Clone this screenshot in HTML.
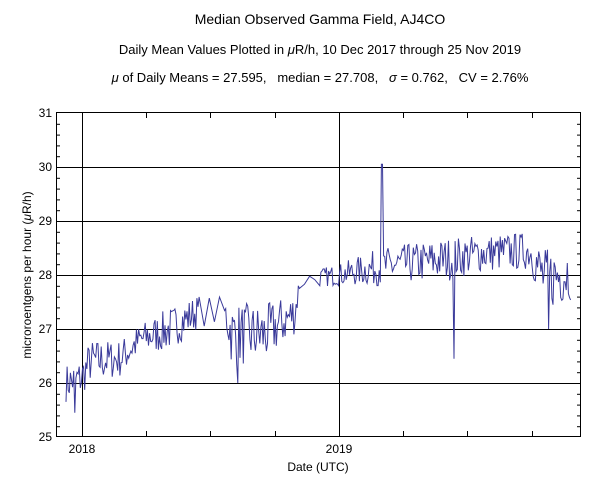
<!DOCTYPE html>
<html><head><meta charset="utf-8"><style>
body{margin:0;background:#fff}
svg text{font-family:"Liberation Sans",sans-serif;fill:#000}
</style></head><body>
<svg id="s" width="600" height="496" viewBox="0 0 600 496" xmlns="http://www.w3.org/2000/svg">
<rect width="600" height="496" fill="#fff"/>
<text x="320" y="24" font-size="14" text-anchor="middle">Median Observed Gamma Field, AJ4CO</text>
<text x="320" y="54" font-size="13" text-anchor="middle">Daily Mean Values Plotted in <tspan font-style="italic">μ</tspan>R/h, 10 Dec 2017 through 25 Nov 2019</text>
<text x="320" y="82" font-size="13" text-anchor="middle" style="white-space:pre"><tspan font-style="italic">μ</tspan> of Daily Means = 27.595,&#160;&#160; median = 27.708,&#160;&#160; <tspan font-style="italic">σ</tspan> = 0.762,&#160;&#160; CV = 2.76%</text>
<g id="grid" stroke="#000" stroke-width="1" fill="none"></g>
<polyline id="d" fill="none" stroke="#3a3a9a" stroke-width="1" points=""/>
<rect x="56.5" y="112.5" width="524" height="324" fill="none" stroke="#000"/>
<g font-size="12" text-anchor="end">
<text x="52" y="117">31</text><text x="52" y="171">30</text><text x="52" y="225">29</text>
<text x="52" y="279">28</text><text x="52" y="333">27</text><text x="52" y="387">26</text><text x="52" y="441">25</text>
</g>
<text x="82" y="453" font-size="12" text-anchor="middle">2018</text>
<text x="339" y="453" font-size="12" text-anchor="middle">2019</text>
<text x="318" y="471" font-size="12" text-anchor="middle">Date (UTC)</text>
<text transform="translate(31,275) rotate(-90)" font-size="12" text-anchor="middle">microroentgens per hour (<tspan font-style="italic">μ</tspan>R/h)</text>
</svg>
<script>
var g=document.getElementById('grid'),h='';
function Y(v){return 437-(v-25)*54;}
for(var v=26;v<=30;v++){var y=Y(v)+.5;h+='<line x1="56" y1="'+y+'" x2="581" y2="'+y+'"/>';}
h+='<line x1="82.5" y1="112" x2="82.5" y2="437"/><line x1="339.5" y1="112" x2="339.5" y2="437"/>';
[146,210,275,403,467,532].forEach(function(x){h+='<line x1="'+(x+.5)+'" y1="112" x2="'+(x+.5)+'" y2="118"/><line x1="'+(x+.5)+'" y1="437" x2="'+(x+.5)+'" y2="431"/>';});
for(var i=1;i<30;i++){if(i%5==0)continue;var y=Y(25+i*0.2)+.5;h+='<line x1="56" y1="'+y+'" x2="60" y2="'+y+'"/><line x1="577" y1="'+y+'" x2="581" y2="'+y+'"/>';}
g.innerHTML=h;
var seed=7;function r(){seed=(seed*16807)%2147483647;return seed/2147483647-0.5;}
var trend=[[66,26.0,.35],[82,26.1,.35],[90,26.4,.4],[120,26.45,.35],[140,26.8,.3],[170,27.0,.4],[200,27.35,.3],[225,27.3,.3],[232,26.9,.6],[265,26.9,.55],[295,27.3,.4],[300,27.9,.15],[338,28.0,.2],[380,28.15,.35],[450,28.3,.4],[480,28.4,.35],[530,28.45,.35],[545,27.9,.6],[572,28.1,.55]];
function T(x){for(var i=0;i<trend.length-1;i++){var a=trend[i],b=trend[i+1];if(x<=b[0]){var t=(x-a[0])/(b[0]-a[0]);return [a[1]+t*(b[1]-a[1]),a[2]+t*(b[2]-a[2])];}}return [28.1,.4];}
var p=[];
for(var x=66;x<=571;x+=1.1){
var step=(x>200&&x<225)||(x>300&&x<318)?4:0; if(step){x+=step;}
var t=T(x),v=t[0]+r()*t[1]*2;
if(Math.abs(x-382)<0.6)v=30.05;
if(Math.abs(x-454)<0.6)v=26.45;
if(Math.abs(x-549)<0.6)v=27.0;
if(Math.abs(x-75)<0.6)v=25.45;
if(Math.abs(x-238)<0.6)v=26.0;
p.push(x.toFixed(1)+','+Y(v).toFixed(1));}
document.getElementById('d').setAttribute('points',p.join(' '));
</script>
</body></html>
